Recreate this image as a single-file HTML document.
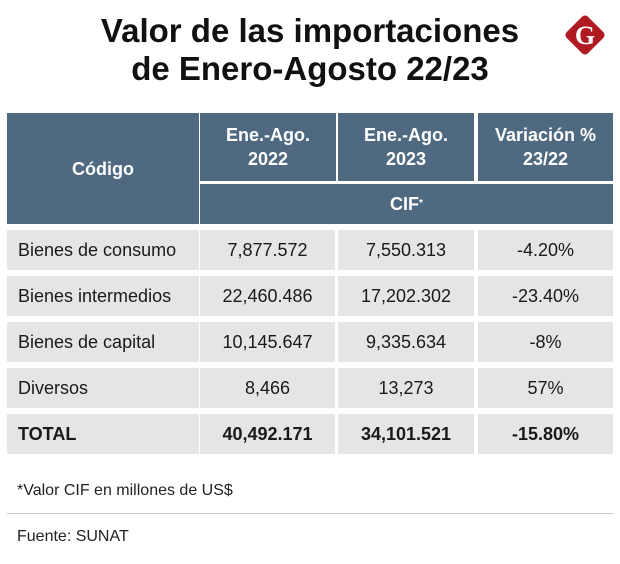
<!DOCTYPE html>
<html><head><meta charset="utf-8">
<style>
body{margin:0;width:620px;height:564px;background:#fff;font-family:"Liberation Sans",sans-serif;position:relative;overflow:hidden}
.t{position:absolute;left:0;width:620px;text-align:center;font-family:"Liberation Sans Narrow","Liberation Sans",sans-serif;font-weight:bold;font-size:33px;color:#111;letter-spacing:0}
.c{position:absolute;display:flex;align-items:center;justify-content:center;box-sizing:border-box}
.h{background:#4f6a80;color:#fff;font-family:"Liberation Sans Narrow","Liberation Sans",sans-serif;font-weight:bold;font-size:18px;text-align:center;line-height:24px}
.d{background:#e3e5e6;color:#1a1a1a;font-size:18px}
.l{justify-content:flex-start;padding-left:11px}
.b{font-weight:bold}
.n{position:absolute;left:17px;font-size:16px;color:#222}
</style></head><body>
<div class="t" style="top:12px;line-height:38px">Valor de las importaciones<br>de Enero-Agosto 22/23</div>
<svg style="position:absolute;left:560px;top:10px" width="50" height="50" viewBox="0 0 50 50"><rect x="10" y="10" width="30" height="30" rx="4" fill="#b01a21" transform="rotate(45 25 25)"/><text x="25" y="34" text-anchor="middle" font-family="Liberation Serif" font-weight="bold" font-size="26" fill="#fff">G</text></svg>
<div id="tbl"></div>
<div class="n" style="top:482px">*Valor CIF en millones de US$</div>
<div style="position:absolute;left:7px;width:606px;top:513px;height:1px;background:#ccc"></div>
<div class="n" style="top:528px">Fuente: SUNAT</div>
<script>
const categories=["Bienes de consumo","Bienes intermedios","Bienes de capital","Diversos","TOTAL"];
const v2022=["7,877.572","22,460.486","10,145.647","8,466","40,492.171"];
const v2023=["7,550.313","17,202.302","9,335.634","13,273","34,101.521"];
const variation=["-4.20%","-23.40%","-8%","57%","-15.80%"];
const T=document.getElementById('tbl');
const cols=[[7,192],[200,135],[338,136],[478,135]];
function cell(x,y,w,h,cls,html,name){const e=document.createElement('div');e.className='c '+cls;e.style.cssText=`left:${x}px;top:${y}px;width:${w}px;height:${h}px`;e.innerHTML=html;


T.appendChild(e);}
cell(7,113,192,111,'h','Código','header-codigo');
cell(200,113,136,68,'h','Ene.-Ago.<br>2022','header-2022');
cell(338,113,136,68,'h','Ene.-Ago.<br>2023','header-2023');
cell(478,113,135,68,'h','Variación %<br>23/22','header-variacion');
cell(200,184,413,40,'h','CIF<sup style="font-size:10px">*</sup>','header-cif');
categories.forEach((c,i)=>{const y=230+i*46,b=i===categories.length-1?' b':'';
cell(cols[0][0],y,cols[0][1],40,'d l'+b,c,'row-label');
cell(cols[1][0],y,cols[1][1],40,'d'+b,v2022[i],'value-2022');
cell(cols[2][0],y,cols[2][1],40,'d'+b,v2023[i],'value-2023');
cell(cols[3][0],y,cols[3][1],40,'d'+b,variation[i],'value-variation');});
</script>
</body></html>
